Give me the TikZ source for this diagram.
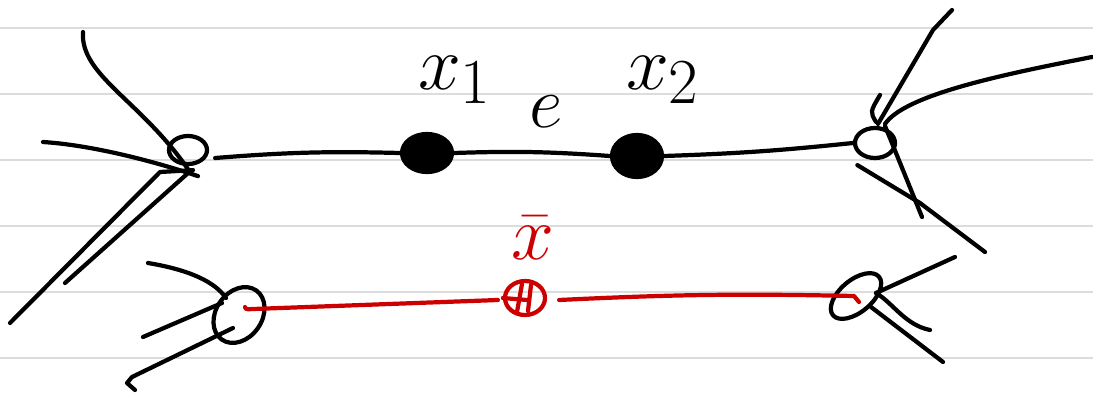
\documentclass[tikz,border=0pt]{standalone}
\usepackage{amsmath}
\usetikzlibrary{positioning, calc, shapes.geometric}
\definecolor{inkred}{HTML}{CC0000}
\definecolor{rulegray}{HTML}{DCDCDC}
\newcommand{\bigmath}[2][2.2]{\scalebox{#1}{\Huge$#2$}}

\begin{document}
\begin{tikzpicture}[x=.025cm, y=-.025cm, line cap=round, line join=round,
          ink/.style={line width=3pt, black},
          redink/.style={line width=3pt, inkred},
          rule/.style={line width=1.1pt, rulegray},
          loopv/.style={ellipse, draw, line width=3pt, inner sep=0pt},
          dotv/.style={ellipse, draw, fill=black, line width=3pt, inner sep=0pt},
          lbl/.style={inner sep=0pt}]
          \useasboundingbox (0,0) rectangle (1093,395);
          % ruled paper
          \foreach \y in {28,94,160,226,292,358} \draw[rule] (0,\y)--(1093,\y);
          % upper graph
          \node[loopv, minimum width=.95cm, minimum height=.7cm] (vl) at (188,150) {};
          \node[dotv, minimum width=1.25cm, minimum height=.95cm] (x1) at (427,153) {};
          \node[dotv, minimum width=1.25cm, minimum height=1.05cm] (x2) at (637,156) {};
          \node[loopv, minimum width=1cm, minimum height=.75cm] (vr) at (875,143) {};
          \draw[ink] ($(vl.east)+(6,8)$) to[bend left=3] (x1.west);
          \draw[ink] (x1.east) to[bend left=3] (x2.west);
          \draw[ink] (x2.east) to[bend right=2] (vr.west);
          \node[lbl] (lx1) at (455,80) {\bigmath{x_1}};
          \node[lbl] (le) at (546,112) {\bigmath[2.1]{e}};
          \node[lbl] (lx2) at (663,80) {\bigmath{x_2}};
          % half-edges at the left end
          \coordinate (la) at (83,32);
          \coordinate (lb) at (43,142);
          \coordinate (lc) at (10,323);
          \coordinate (ld) at (65,283);
          \draw[ink] ($(vl.south)+(0,3)$) .. controls (140,100) and (80,75) .. (la);
          \draw[ink] ($(vl.south)+(10,10)$) .. controls (150,160) and (90,145) .. (lb);
          \draw[ink] ($(vl.south)+(5,4)$) -- (160,172) -- (lc);
          \draw[ink] ($(vl.south)+(0,7)$) -- (ld);
          % half-edges at the right end
          \coordinate (ra) at (952,10);
          \coordinate (rb) at (1092,57);
          \coordinate (rc) at (880,95);
          \coordinate (rd) at (922,217);
          \coordinate (re) at (985,252);
          \draw[ink] ($(vr.north)+(3,-2)$) -- (933,30) -- (ra);
          \draw[ink] ($(vr.north)+(10,-2)$) .. controls (905,95) and (1000,75) .. (rb);
          \draw[ink] ($(vr.north)+(1,-4)$) .. controls (870,112) .. (rc);
          \draw[ink] ($(vr.north)+(10,0)$) -- (rd);
          \draw[ink] ($(vr.south west)+(-2,10)$) -- (920,203) -- (re);
          % lower graph
          \node[loopv, rotate=55, minimum width=1.5cm, minimum height=1.15cm] (bl) at (239,315) {};
          \node[ellipse, draw=inkred, line width=3pt, inner sep=0pt, minimum width=1cm, minimum height=.85cm] (xb) at (525,298) {};
          \node[loopv, rotate=40, minimum width=1.5cm, minimum height=.8cm] (br) at (856,296) {};
          \draw[redink] ($(xb.center)+(-3,-14)$) -- ($(xb.center)+(-8,14)$);
          \draw[redink] ($(xb.center)+(6,-13)$) -- ($(xb.center)+(3,13)$);
          \draw[redink] (xb.west) -- ($(xb.center)+(2,2)$);
          \draw[redink] ($(bl.center)+(6,-8)$) to[out=-90,in=180] ($(bl.center)+(14,-6)$) -- ($(xb.west)+(-5,2)$);
          \draw[redink] ($(xb.east)+(12,2)$) to[bend left=2] ($(br.center)+(-2,0)$) -- ($(br.center)+(3,6)$);
          \node[lbl, text=inkred] (lxb) at (533,238) {\bigmath{\bar{x}}};
          % half-edges of the lower left vertex
          \coordinate (bla) at (148,263);
          \coordinate (blb) at (143,337);
          \coordinate (blc) at (135,390);
          \draw[ink] ($(bl.center)+(-13,-17)$) .. controls (215,282) and (190,270) .. (bla);
          \draw[ink] ($(bl.center)+(-17,-12)$) -- (blb);
          \draw[ink] ($(bl.center)+(-6,13)$) -- (132,377) -- (127,383) -- (blc);
          % half-edges of the lower right vertex
          \coordinate (bra) at (955,257);
          \coordinate (brb) at (930,330);
          \coordinate (brc) at (943,362);
          \draw[ink] ($(br.center)+(20,-3)$) -- (bra);
          \draw[ink] ($(br.center)+(20,-3)$) .. controls (893,303) and (905,325) .. (brb);
          \draw[ink] ($(br.center)+(15,11)$) -- (brc);
        \end{tikzpicture}
\end{document}
